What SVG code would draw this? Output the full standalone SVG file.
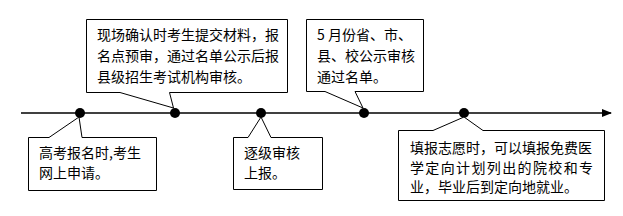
<svg xmlns="http://www.w3.org/2000/svg" width="623" height="216" viewBox="0 0 623 216">
<style>
.co{fill:#fff;stroke:#000;stroke-width:1}
.t{font-family:"Noto Sans CJK SC","Noto Sans",sans-serif;font-size:14px;fill:#000}
.dot{fill:#000}
</style>
<defs>
<marker id="ah" markerWidth="10" markerHeight="8" refX="9" refY="4" orient="auto" markerUnits="userSpaceOnUse">
<path d="M0,0 L10,4 L0,8 Z" fill="#000"/>
</marker>
</defs>
<g id="connectors">
<line x1="21" y1="113" x2="611" y2="113" stroke="#000" stroke-width="1.3" marker-end="url(#ah)"/>
</g>
<g id="dots">
<circle class="dot" cx="80" cy="113" r="5"/>
<circle class="dot" cx="175" cy="113" r="5"/>
<circle class="dot" cx="261" cy="113" r="5"/>
<circle class="dot" cx="364" cy="113" r="5"/>
<circle class="dot" cx="464" cy="113" r="5"/>
</g>
<g id="node1">
<path class="co" d="M86.5,19.5 H287.5 V92.5 H169.5 L173.5,108 L120,92.5 H86.5 Z"/>
<text class="t" x="97" y="40">现场确认时考生提交材料，报</text>
<text class="t" x="97" y="61">名点预审，通过名单公示后报</text>
<text class="t" x="97" y="82">县级招生考试机构审核。</text>
</g>
<g id="node2">
<path class="co" d="M306.5,19.5 H423.5 V91.5 H355 L363,108 L325,91.5 H306.5 Z"/>
<text class="t" x="317" y="40">5 月份省、市、</text>
<text class="t" x="317" y="61">县、校公示审核</text>
<text class="t" x="317" y="82">通过名单。</text>
</g>
<g id="node3">
<path class="co" d="M28.5,137.5 H49 L79,117 L82,137.5 H156.5 V190.5 H28.5 Z"/>
<text class="t" x="39" y="158">高考报名时,考生</text>
<text class="t" x="39" y="178">网上申请。</text>
</g>
<g id="node4">
<path class="co" d="M233.5,137.5 H248 L261,117 L271,137.5 H322.5 V189.5 H233.5 Z"/>
<text class="t" x="244" y="158">逐级审核</text>
<text class="t" x="244" y="178">上报。</text>
</g>
<g id="node5">
<path class="co" d="M398.5,130.5 H433 L464,117 L483,130.5 H604.5 V200.5 H398.5 Z"/>
<text class="t" x="410" y="153">填报志愿时，可以填报免费医</text>
<text class="t" x="410" y="173" textLength="183" lengthAdjust="spacing">学定向计划列出的院校和专</text>
<text class="t" x="410" y="192">业，毕业后到定向地就业。</text>
</g>
</svg>
